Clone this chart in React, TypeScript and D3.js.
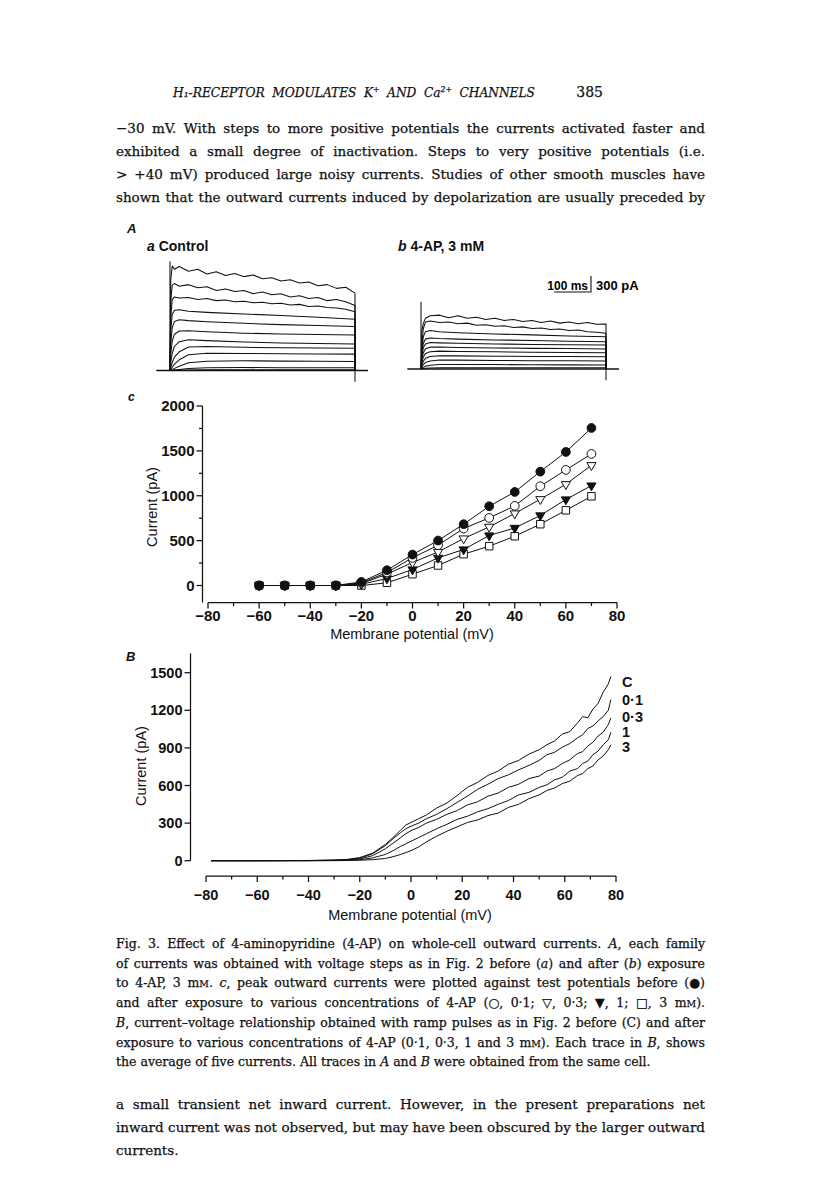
import React, { useRef, useEffect } from 'react';
import * as d3 from 'd3';

// ---------- panel A: current families (pA against ms) ----------
const tFine = [0, 2, 6, 12, 25, 50, 75, 100, 125, 150, 175, 200, 225, 250, 275, 300, 325, 350, 375, 400, 425, 450, 475, 500];
const tCoarse = [0, 2, 6, 12, 25, 50, 100, 200, 300, 400, 500];

const controlFine = [
  [0, 1700, 1960, 1900, 1950, 1860, 1900, 1810, 1850, 1780, 1820, 1760, 1790, 1720, 1740, 1680, 1700, 1640, 1660, 1590, 1610, 1540, 1560, 1450],
  [0, 1300, 1600, 1630, 1580, 1610, 1550, 1570, 1500, 1530, 1480, 1500, 1440, 1470, 1420, 1440, 1380, 1400, 1350, 1370, 1310, 1330, 1290, 1220],
  [0, 1000, 1330, 1380, 1360, 1370, 1330, 1350, 1310, 1320, 1290, 1300, 1270, 1280, 1250, 1260, 1230, 1240, 1200, 1210, 1180, 1170, 1150, 1100],
];
const controlCoarse = [
  [0, 750, 1050, 1130, 1140, 1110, 1090, 1060, 1030, 1000, 960],
  [0, 500, 800, 920, 950, 935, 915, 885, 860, 845, 825],
  [0, 300, 550, 680, 740, 745, 725, 700, 685, 675, 665],
  [0, 150, 320, 450, 540, 575, 560, 535, 515, 505, 495],
  [0, 60, 150, 250, 350, 440, 450, 435, 425, 422, 418],
  [0, 20, 60, 120, 200, 295, 325, 320, 313, 310, 307],
  [0, 5, 15, 40, 80, 145, 175, 182, 176, 174, 170],
  [0, 0, 3, 8, 18, 38, 50, 55, 53, 52, 50],
  [0, 0, 0, 2, 5, 10, 12, 14, 13, 13, 12],
];
const apFine = [
  [0, 700, 850, 950, 1000, 1010, 960, 1000, 950, 970, 930, 950, 910, 930, 890, 910, 870, 900, 860, 880, 850, 870, 840, 845],
  [0, 400, 750, 880, 900, 870, 880, 850, 860, 820, 830, 800, 810, 780, 790, 760, 770, 740, 750, 720, 730, 700, 690, 670],
];
const apCoarse = [
  [0, 300, 600, 700, 720, 700, 680, 655, 640, 620, 605],
  [0, 250, 480, 560, 580, 570, 560, 545, 535, 520, 512],
  [0, 200, 400, 470, 495, 490, 482, 470, 460, 455, 450],
  [0, 150, 300, 380, 410, 412, 405, 395, 387, 383, 375],
  [0, 100, 220, 290, 325, 335, 330, 322, 315, 311, 306],
  [0, 60, 140, 200, 235, 250, 246, 240, 235, 233, 231],
  [0, 30, 80, 120, 150, 168, 166, 160, 155, 153, 150],
  [0, 10, 30, 50, 70, 85, 86, 83, 79, 77, 75],
  [0, 3, 10, 15, 20, 25, 25, 25, 25, 25, 25],
];
const controlTransient = 2050;
const apTransient = 1260;
const tailDip = -210;
const stepMs = 500;
const barMs = 100;
const barPa = 300;

// ---------- panel c: peak current against step potential ----------
const stepV = [-60, -50, -40, -30, -20, -10, 0, 10, 20, 30, 40, 50, 60, 70];
const ivControl = [0, 0, 0, 0, 40, 170, 345, 501, 683, 883, 1042, 1269, 1488, 1755];
const iv01 = [0, 0, 0, 0, 30, 145, 308, 449, 635, 753, 887, 1106, 1288, 1466];
const iv03 = [0, 0, 0, 0, 22, 126, 256, 374, 523, 653, 802, 961, 1128, 1340];
const iv1 = [0, 0, 0, 0, 14, 78, 178, 308, 401, 557, 641, 780, 958, 1113];
const iv3 = [0, 0, 0, 0, 0, 30, 126, 223, 349, 438, 549, 683, 838, 994];

// ---------- panel B: ramp current against potential ----------
const rampV = [-78, -60, -40, -30, -25, -20, -15, -10, -7, -4, -2, 0, 3, 6, 10, 14, 18, 22, 26, 30, 34, 38, 42, 46, 50, 53, 56, 59, 62, 65, 67, 69, 71, 73, 75, 77, 78];
const rampC = [0, 0, 2, 5, 10, 25, 60, 130, 185, 245, 285, 305, 335, 365, 420, 460, 520, 585, 625, 680, 715, 770, 800, 850, 885, 925, 955, 1010, 1030, 1100, 1150, 1140, 1210, 1255, 1345, 1410, 1470];
const ramp01 = [0, 0, 1, 4, 8, 20, 55, 120, 175, 225, 255, 275, 300, 335, 370, 415, 465, 515, 570, 610, 655, 685, 725, 760, 800, 845, 865, 905, 935, 980, 1005, 1055, 1075, 1115, 1150, 1200, 1285];
const ramp03 = [0, 0, 1, 3, 6, 14, 40, 95, 140, 185, 215, 240, 265, 300, 330, 370, 400, 445, 470, 515, 540, 585, 610, 655, 675, 715, 735, 775, 805, 855, 870, 915, 945, 995, 1025, 1085, 1140];
const ramp1 = [0, 0, 0, 2, 4, 8, 22, 50, 80, 115, 135, 155, 185, 215, 255, 290, 330, 355, 390, 415, 450, 480, 525, 545, 585, 605, 645, 665, 715, 735, 775, 795, 845, 875, 925, 965, 1025];
const ramp3 = [0, 0, 0, 0, 2, 4, 8, 18, 32, 50, 65, 80, 110, 150, 195, 235, 270, 305, 325, 360, 380, 425, 450, 495, 525, 560, 580, 615, 635, 680, 695, 735, 755, 805, 835, 885, 925];
const rampLabels = ['C', '0·1', '0·3', '1', '3'];
const rampLabelAt = [1425, 1280, 1150, 1030, 905];

const xTicks = [-80, -60, -40, -20, 0, 20, 40, 60, 80];
const xMinor = [-70, -50, -30, -10, 10, 30, 50, 70];
const yTicksC = [0, 500, 1000, 1500, 2000];
const yMinorC = [250, 750, 1250, 1750];
const yTicksB = [0, 300, 600, 900, 1200, 1500];

// ---------- page text ----------
const runningHead = 'H\u2081-RECEPTOR MODULATES K\u207A AND Ca\u00B2\u207A CHANNELS';
const pageNo = '385';
const textTop = [
  '\u221230 mV. With steps to more positive potentials the currents activated faster and',
  'exhibited a small degree of inactivation. Steps to very positive potentials (i.e.',
  '> +40 mV) produced large noisy currents. Studies of other smooth muscles have',
  'shown that the outward currents induced by depolarization are usually preceded by',
];
const caption = [
  'Fig. 3. Effect of 4-aminopyridine (4-AP) on whole-cell outward currents. *A*, each family',
  'of currents was obtained with voltage steps as in Fig. 2 before (*a*) and after (*b*) exposure',
  'to 4-AP, 3 m~M~. *c*, peak outward currents were plotted against test potentials before (\u25CF)',
  'and after exposure to various concentrations of 4-AP (\u25CB, 0·1; \u25BD, 0·3; \u25BC, 1; \u25A1, 3 m~M~).',
  '*B*, current\u2013voltage relationship obtained with ramp pulses as in Fig. 2 before (C) and after',
  'exposure to various concentrations of 4-AP (0·1, 0·3, 1 and 3 m~M~). Each trace in *B*, shows',
  'the average of five currents. All traces in *A* and *B* were obtained from the same cell.',
];
const textBottom = [
  'a small transient net inward current. However, in the present preparations net',
  'inward current was not observed, but may have been obscured by the larger outward',
  'currents.',
];

const sans = "'Liberation Sans', Arial, Helvetica, sans-serif";
const serif = "'DejaVu Serif', 'Liberation Serif', serif";
const fmt = (d: number) => (d < 0 ? '\u2212' + Math.abs(d) : String(d));

function rich(s: string) {
  const parts = s.split(/(\*[^*]+\*|~[^~]+~)/).filter(p => p !== '');
  return parts.map((p, i) => {
    const inner = p.slice(1, -1);
    if (p[0] === '*' && p.length > 2) return <tspan key={i} fontStyle="italic">{inner}</tspan>;
    if (p[0] === '~' && p.length > 2) return <tspan key={i} fontSize="0.75em">{inner}</tspan>;
    return <tspan key={i}>{p}</tspan>;
  });
}

function Lines({ lines, x, y0, step, width, size, justifyLast = true }:
  { lines: string[]; x: number; y0: number; step: number; width: number; size: number; justifyLast?: boolean }) {
  return (
    <g fontFamily={serif} fontSize={size} fill="#111" stroke="#111" strokeWidth={0.25}>
      {lines.map((l, i) => {
        const just = justifyLast || i < lines.length - 1;
        return (
          <text key={i} className={just ? 'just' : undefined} data-w={width} x={x} y={y0 + i * step}>
            {rich(l)}
          </text>
        );
      })}
    </g>
  );
}

function Family({ onsetX, baseY, fine, coarse, transient }:
  { onsetX: number; baseY: number; fine: number[][]; coarse: number[][]; transient: number }) {
  const x = d3.scaleLinear().domain([0, stepMs]).range([onsetX, onsetX + 185]);
  const y = d3.scaleLinear().domain([0, barPa]).range([baseY, baseY - 16]);
  const line = d3.line<number[]>().x(d => x(d[0])).y(d => y(d[1]));
  const traces = [
    ...fine.map(v => tFine.map((t, i) => [t, v[i]])),
    ...coarse.map(v => tCoarse.map((t, i) => [t, v[i]])),
  ].map(p => [...p, [stepMs, 0]]);
  return (
    <g fill="none" stroke="#111" strokeWidth={1.05} strokeLinejoin="round">
      <path d={line([[-37, 0], [535, 0]])!} strokeWidth={1.3} />
      {traces.map((p, i) => <path key={i} d={line(p)!} />)}
      <path d={line([[0, 0], [0, transient]])!} />
      <path d={line([[stepMs, 0], [stepMs, tailDip]])!} />
    </g>
  );
}

function ScaleBar({ right, baseY }: { right: number; baseY: number }) {
  const x = d3.scaleLinear().domain([0, stepMs]).range([0, 185]);
  const y = d3.scaleLinear().domain([0, barPa]).range([0, 16]);
  const w = x(barMs);
  const h = y(barPa);
  return (
    <g>
      <path d={`M${right - w},${baseY}H${right}V${baseY - h}`} fill="none" stroke="#111" strokeWidth={1.1} />
      <text x={right - 3} y={baseY - 2} textAnchor="end" fontFamily={sans} fontWeight="bold" fontSize={12}>{barMs} ms</text>
      <text x={right + 5} y={baseY - 2} fontFamily={sans} fontWeight="bold" fontSize={13}>{barPa} pA</text>
    </g>
  );
}

function PanelC() {
  const x = d3.scaleLinear().domain([-80, 80]).range([208, 617]);
  const y = d3.scaleLinear().domain([0, 2000]).range([585.5, 406]);
  const axX = 202.5, axY = 602.5;
  const series = [
    { v: iv3, sym: d3.symbolSquare, size: 56, fill: '#fff', rot: 0 },
    { v: iv1, sym: d3.symbolTriangle, size: 36, fill: '#111', rot: 180 },
    { v: iv03, sym: d3.symbolTriangle, size: 36, fill: '#fff', rot: 180 },
    { v: iv01, sym: d3.symbolCircle, size: 60, fill: '#fff', rot: 0 },
    { v: ivControl, sym: d3.symbolCircle, size: 60, fill: '#111', rot: 0 },
  ];
  const line = d3.line<number>().x((_, i) => x(stepV[i])).y(d => y(d));
  return (
    <g>
      <g stroke="#111" strokeWidth={1.25} fill="none">
        <path d={`M${axX},${y(2000)}V${axY}`} />
        <path d={`M${x(-80)},${axY}H${x(80)}`} />
        {yTicksC.map(t => <path key={t} d={`M${axX},${y(t)}h-6`} />)}
        {yMinorC.map(t => <path key={t} d={`M${axX},${y(t)}h-3.5`} />)}
        {xTicks.map(t => <path key={t} d={`M${x(t)},${axY}v6`} />)}
        {xMinor.map(t => <path key={t} d={`M${x(t)},${axY}v3.5`} />)}
      </g>
      <g fontFamily={sans} fontWeight="bold" fontSize={15} fill="#111">
        {yTicksC.map(t => <text key={t} x={axX - 8} y={y(t) + 5} textAnchor="end">{t}</text>)}
        {xTicks.map(t => <text key={t} x={x(t)} y={621} textAnchor="middle">{fmt(t)}</text>)}
      </g>
      <g fontFamily={sans} fontSize={14.5} fill="#111">
        <text x={412} y={639} textAnchor="middle">Membrane potential (mV)</text>
        <text transform="translate(157,507) rotate(-90)" textAnchor="middle">Current (pA)</text>
      </g>
      <g fill="none" stroke="#111" strokeWidth={1}>
        {series.map((s, i) => <path key={i} d={line(s.v)!} />)}
      </g>
      {series.map((s, i) => (
        <g key={i} stroke="#111" strokeWidth={1} fill={s.fill}>
          {s.v.map((d, j) => (
            <path key={j} transform={`translate(${x(stepV[j])},${y(d)}) rotate(${s.rot})`}
              d={d3.symbol().type(s.sym).size(s.size)()!} />
          ))}
        </g>
      ))}
    </g>
  );
}

function PanelB() {
  const x = d3.scaleLinear().domain([-80, 80]).range([206, 616]);
  const y = d3.scaleLinear().domain([0, 1500]).range([860.7, 672.7]);
  const axX = 190.5, axY = 876;
  const traces = [rampC, ramp01, ramp03, ramp1, ramp3];
  const line = d3.line<number>().x((_, i) => x(rampV[i])).y(d => y(d));
  return (
    <g>
      <g stroke="#111" strokeWidth={1.25} fill="none">
        <path d={`M${axX},${y(1655)}V${y(0)}`} />
        <path d={`M${x(-80)},${axY}H${x(80)}`} />
        {yTicksB.map(t => <path key={t} d={`M${axX},${y(t)}h-6`} />)}
        {xTicks.map(t => <path key={t} d={`M${x(t)},${axY}v6`} />)}
        {xMinor.map(t => <path key={t} d={`M${x(t)},${axY}v3.5`} />)}
      </g>
      <g fontFamily={sans} fontWeight="bold" fontSize={14.5} fill="#111">
        {yTicksB.map(t => <text key={t} x={axX - 8} y={y(t) + 5} textAnchor="end">{t}</text>)}
        {xTicks.map(t => <text key={t} x={x(t)} y={900} textAnchor="middle">{fmt(t)}</text>)}
        {rampLabels.map((l, i) => <text key={l} x={622} y={y(rampLabelAt[i]) + 5}>{l}</text>)}
      </g>
      <g fontFamily={sans} fontSize={14.5} fill="#111">
        <text x={410} y={920} textAnchor="middle">Membrane potential (mV)</text>
        <text transform="translate(146,766) rotate(-90)" textAnchor="middle">Current (pA)</text>
      </g>
      <g fill="none" stroke="#111" strokeWidth={1} strokeLinejoin="round">
        {traces.map((t, i) => <path key={i} d={line(t)!} />)}
      </g>
    </g>
  );
}

export default function App() {
  const ref = useRef<SVGSVGElement>(null);

  useEffect(() => {
    // justify the running text by spreading the word gaps
    d3.select(ref.current).selectAll<SVGTextElement, unknown>('text.just').each(function () {
      this.style.wordSpacing = '0px';
      const target = Number(this.getAttribute('data-w'));
      const gaps = (this.textContent || '').split(' ').length - 1;
      const natural = this.getComputedTextLength();
      if (gaps > 0) this.style.wordSpacing = `${(target - natural) / gaps}px`;
    });
  }, []);

  return (
    <svg ref={ref} width={816} height={1200} viewBox="0 0 816 1200"
      style={{ position: 'absolute', left: 0, top: 0, background: '#fff' }}>
      <rect width={816} height={1200} fill="#fff" />

      <text x={173} y={97} textLength={362} lengthAdjust="spacingAndGlyphs"
        fontFamily={serif} fontStyle="italic" fontSize={13.5} fill="#111" stroke="#111" strokeWidth={0.25}
        style={{ wordSpacing: '4px' }}>
        {runningHead}
      </text>
      <text x={603} y={97} textAnchor="end" fontFamily={serif} fontSize={14} fill="#111" stroke="#111" strokeWidth={0.25}>{pageNo}</text>
      <Lines lines={textTop} x={116} y0={133} step={23} width={589} size={13.5} />

      <g fontFamily={sans} fontWeight="bold" fill="#111">
        <text x={127} y={233} fontSize={13} fontStyle="italic">A</text>
        <text x={147} y={251} fontSize={14}><tspan fontStyle="italic">a</tspan>  Control</text>
        <text x={398} y={251} fontSize={14}><tspan fontStyle="italic">b</tspan>  4-AP, 3 mM</text>
        <text x={128} y={401} fontSize={12} fontStyle="italic">c</text>
        <text x={126} y={661} fontSize={13} fontStyle="italic">B</text>
      </g>

      <Family onsetX={170} baseY={370.5} fine={controlFine} coarse={controlCoarse} transient={controlTransient} />
      <Family onsetX={421} baseY={369} fine={apFine} coarse={apCoarse} transient={apTransient} />
      <ScaleBar right={591} baseY={292} />

      <PanelC />
      <PanelB />

      <Lines lines={caption} x={116} y0={948} step={19.7} width={589} size={12.5} justifyLast={false} />
      <Lines lines={textBottom} x={116} y0={1109} step={23} width={589} size={13.5} justifyLast={false} />
    </svg>
  );
}
